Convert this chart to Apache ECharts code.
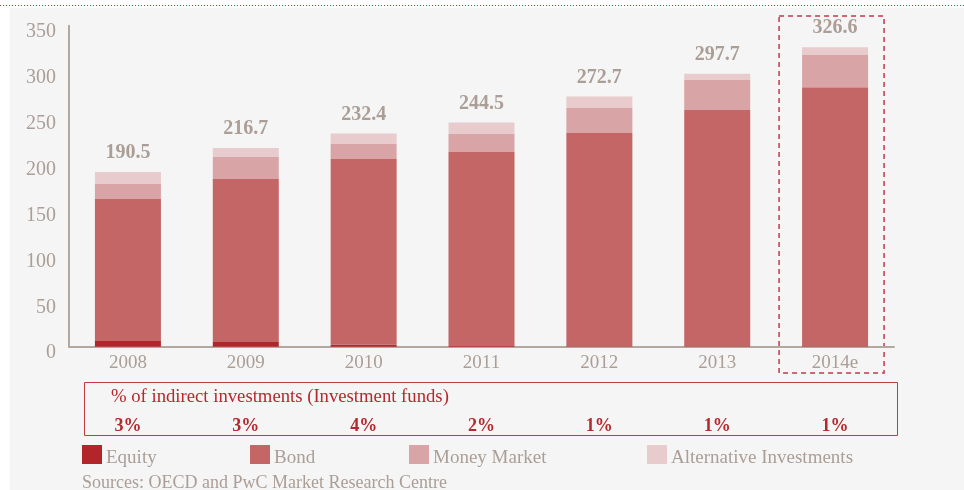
<!DOCTYPE html>
<html>
<head>
<meta charset="utf-8">
<script src="https://cdn.jsdelivr.net/npm/echarts@6/dist/echarts.min.js"></script>
<style>
  html, body { margin: 0; padding: 0; background: #fff; }
  #chart { width: 964px; height: 490px; }
</style>
</head>
<body>
<div id="chart"></div>
<script>
const years = ['2008', '2009', '2010', '2011', '2012', '2013', '2014e']
const equity = [6.2, 5.0, 2.0, 0.8, 0.5, 0.5, 0.5]
const bond = [154.8, 177.9, 202.7, 211.5, 232.5, 257.7, 282.4]
const moneyMarket = [16.4, 24.0, 16.4, 19.7, 27.3, 32.6, 35.2]
const alternative = [13.1, 9.8, 11.3, 12.5, 12.4, 6.9, 8.5]
const totals = [190.5, 216.7, 232.4, 244.5, 272.7, 297.7, 326.6]
const indirectShare = ['3%', '3%', '4%', '2%', '1%', '1%', '1%']
const yTicks = { min: 0, max: 350, interval: 50 }

const font = '"Liberation Serif", serif'
const grey = '#ab9e96'
const red = '#b5282e'
const colors = ['#b2262b', '#c46566', '#d9a4a6', '#e8cbcc']

const chart = echarts.init(document.getElementById('chart'))

function legendFor(name, left) {
  return {
    data: [name], left: left, top: 445, padding: 0,
    itemWidth: 20, itemHeight: 19, icon: 'rect', itemGap: 0,
    formatter: '{t|{name}}',
    textStyle: {
      fontFamily: font, fontSize: 19, color: grey,
      rich: { t: { fontFamily: font, fontSize: 19, color: grey, padding: [8, 0, 0, -1] } }
    },
    selectedMode: false
  }
}

const option = {
  animation: false,
  textStyle: { fontFamily: font },
  grid: { left: 69, right: 70, top: 25.7, bottom: 143.3 },
  legend: [
    legendFor('Equity', 82),
    legendFor('Bond', 250),
    legendFor('Money Market', 409),
    legendFor('Alternative Investments', 647)
  ],
  xAxis: [
    {
      type: 'category', data: years,
      axisLine: { lineStyle: { color: '#b3a89f', width: 2 } },
      axisTick: { show: false },
      axisLabel: { color: grey, fontSize: 19, fontFamily: font, margin: 7 }
    },
    {
      type: 'category', data: indirectShare, position: 'bottom', offset: 71,
      axisLine: { show: false }, axisTick: { show: false },
      axisLabel: { color: red, fontSize: 18, fontWeight: 'bold', fontFamily: font, margin: 0 }
    }
  ],
  yAxis: {
    type: 'value', min: yTicks.min, max: yTicks.max, interval: yTicks.interval,
    axisLine: { show: true, lineStyle: { color: '#b3a89f', width: 2 } },
    axisTick: { show: false },
    splitLine: { show: false },
    axisLabel: { color: grey, fontSize: 20, fontFamily: font, margin: 13, verticalAlign: 'top', lineHeight: 13 }
  },
  series: [
    { name: 'Equity', type: 'bar', stack: 'total', barWidth: 66, data: equity, itemStyle: { color: colors[0] } },
    { name: 'Bond', type: 'bar', stack: 'total', data: bond, itemStyle: { color: colors[1] } },
    { name: 'Money Market', type: 'bar', stack: 'total', data: moneyMarket, itemStyle: { color: colors[2] } },
    {
      name: 'Alternative Investments', type: 'bar', stack: 'total', data: alternative,
      itemStyle: { color: colors[3] },
      label: {
        show: true, position: 'top', distance: 9,
        formatter: p => totals[p.dataIndex].toFixed(1),
        fontFamily: font, fontSize: 20, fontWeight: 'bold', color: grey
      }
    }
  ]
}
chart.setOption(option)

// decorations: background panel, top dotted rule, table frame, estimate box
const lastX = chart.convertToPixel({ xAxisIndex: 0 }, years[years.length - 1])
chart.setOption({
  graphic: [
    { type: 'rect', z: -10, silent: true, shape: { x: 10, y: 8, width: 954, height: 482 }, style: { fill: '#f5f5f5' } },
    { type: 'line', silent: true, shape: { x1: 0, y1: 5.5, x2: 964, y2: 5.5 }, style: { stroke: '#cc3a40', lineWidth: 1.2, lineDash: [1, 2] } },
    { type: 'rect', silent: true, shape: { x: 84.5, y: 382.5, width: 813, height: 53 }, style: { fill: 'none', stroke: '#c23b40', lineWidth: 1 } },
    { type: 'text', silent: true, left: 111, top: 388, style: { text: '% of indirect investments (Investment funds)', fill: red, font: '18.7px ' + font } },
    { type: 'rect', silent: true, shape: { x: lastX - 56, y: 16, width: 105, height: 357 }, style: { fill: 'none', stroke: '#c0394b', lineWidth: 1.5, lineDash: [5, 4] } },
    { type: 'text', silent: true, left: 82, top: 474, style: { text: 'Sources: OECD and PwC Market Research Centre', fill: grey, font: '18px ' + font } }
  ]
})
</script>
</body>
</html>
